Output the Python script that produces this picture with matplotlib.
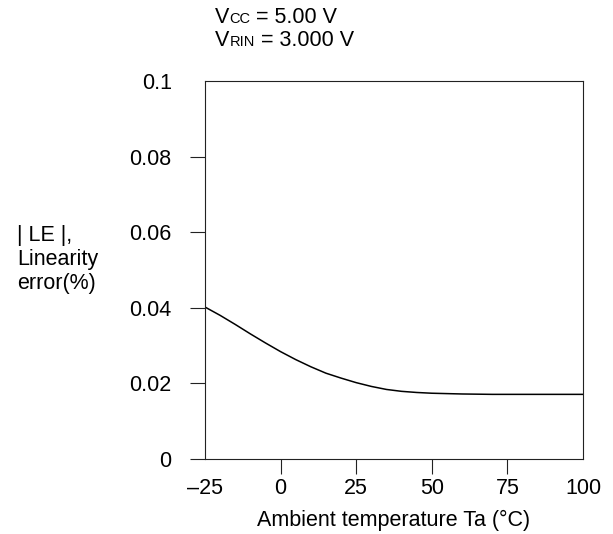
import matplotlib
matplotlib.use('Agg')
import matplotlib.pyplot as plt

plt.rcParams['font.family'] = ['Liberation Sans', 'DejaVu Sans']

# curve
temp = [-25, -20, -15, -10, -5, 0, 5, 10, 15, 20, 25, 30, 35, 40, 45, 50, 55, 60, 70, 80, 90, 100]
le = [0.0402, 0.0380, 0.0356, 0.0331, 0.0307, 0.0284, 0.0263, 0.0244, 0.0227, 0.0214, 0.0202,
      0.0192, 0.0184, 0.0179, 0.0176, 0.0174, 0.0173, 0.0172, 0.0171, 0.0171, 0.0171, 0.0171]

x_ticks = [-25, 0, 25, 50, 75, 100]
x_labels = ['\u201325', '0', '25', '50', '75', '100']
y_ticks = [0, 0.02, 0.04, 0.06, 0.08, 0.1]
y_labels = ['0', '0.02', '0.04', '0.06', '0.08', '0.1']

FS = 15.5

fig = plt.figure(figsize=(6.13, 5.34), dpi=100)
ax = fig.add_axes([205 / 613, 1 - 459 / 534, 378 / 613, 378 / 534])

ax.plot(temp, le, color='black', lw=1.1)
ax.set_xlim(-25, 100)
ax.set_ylim(0, 0.1)
ax.set_xticks(x_ticks)
ax.set_xticklabels(x_labels)
ax.set_yticks(y_ticks)
ax.set_yticklabels(y_labels)
ax.tick_params(direction='out', length=11, width=0.8, labelsize=FS, color='#222222')
ax.tick_params(axis='y', pad=13)
ax.tick_params(axis='x', pad=2.5)
# no visible tick marks at the corners
for t in (ax.xaxis.get_major_ticks()[0], ax.xaxis.get_major_ticks()[-1],
          ax.yaxis.get_major_ticks()[-1]):
    t.tick1line.set_visible(False)
for s in ax.spines.values():
    s.set_linewidth(0.8)
    s.set_color('#222222')

ax.set_xlabel('Ambient temperature Ta (\u00b0C)', fontsize=FS, labelpad=8)

fig.text(17 / 613, 1 - 225 / 534, '| LE |,\nLinearity\nerror(%)', fontsize=FS,
         ha='left', va='top', linespacing=1.2)

# header lines with small-caps style subscripts sitting on the baseline
renderer = fig.canvas.get_renderer()


def header(y, parts):
    x = 215
    for txt, size in parts:
        t = fig.text(x / 613, 1 - y / 534, txt, fontsize=size, ha='left', va='baseline')
        bb = t.get_window_extent(renderer)
        x = bb.x1


header(23, [('V', FS), ('CC', 10.5), (' = 5.00 V', FS)])
header(46, [('V', FS), ('RIN', 10.5), (' = 3.000 V', FS)])

fig.savefig('out.png', dpi=100)
